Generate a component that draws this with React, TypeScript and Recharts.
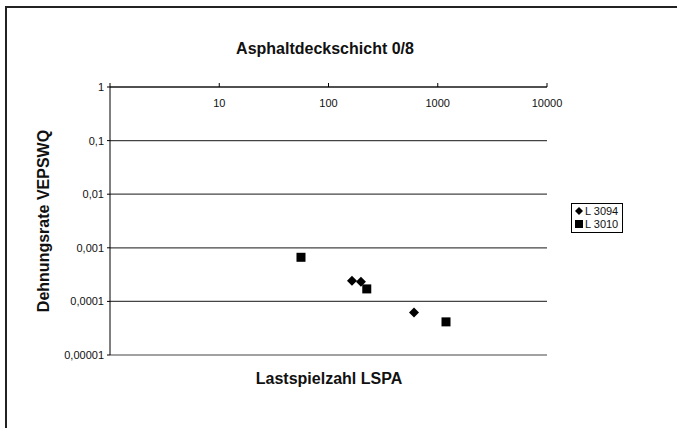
import React from "react";
import {
  ScatterChart,
  Scatter,
  XAxis,
  YAxis,
  CartesianGrid,
  Legend,
} from "recharts";

// Lastspielzahl (x) and Dehnungsrate (y)
const l3094X = [164, 198, 606];
const l3094Y = [0.000244, 0.000232, 0.0000618];
const l3010X = [56, 224, 1190];
const l3010Y = [0.000665, 0.000171, 0.0000415];

const xTicks = [1, 10, 100, 1000, 10000];
const xTickLabels = ["", "10", "100", "1000", "10000"];
const yTicks = [0.00001, 0.0001, 0.001, 0.01, 0.1, 1];
const yTickLabels = ["0,00001", "0,0001", "0,001", "0,01", "0,1", "1"];

const l3094 = l3094X.map((x, i) => ({ x, y: l3094Y[i] }));
const l3010 = l3010X.map((x, i) => ({ x, y: l3010Y[i] }));

const FONT = "'Liberation Sans', Arial, sans-serif";

const Diamond = (props: any) => {
  const { cx, cy } = props;
  const r = 5;
  return (
    <path
      d={`M${cx},${cy - r} L${cx + r},${cy} L${cx},${cy + r} L${cx - r},${cy} Z`}
      fill="#000"
    />
  );
};

const Square = (props: any) => {
  const { cx, cy } = props;
  return <rect x={cx - 4.5} y={cy - 4.5} width={9} height={9} fill="#000" />;
};

const XTick = (props: any) => {
  const { x, y, payload } = props;
  const i = xTicks.indexOf(payload.value);
  return (
    <text
      x={x}
      y={y + 22}
      textAnchor="middle"
      dominantBaseline="central"
      fontSize={11}
      fontFamily={FONT}
      fill="#111"
    >
      {xTickLabels[i]}
    </text>
  );
};

const LegendBox = () => (
  <div
    style={{
      border: "1px solid #000",
      background: "#fff",
      padding: "1px 3px",
      fontSize: 11,
      lineHeight: "13px",
      fontFamily: FONT,
      color: "#111",
      whiteSpace: "nowrap",
    }}
  >
    <div>
      <svg width="8" height="8" style={{ marginRight: 2 }}>
        <path d="M4,0 L8,4 L4,8 L0,4 Z" fill="#000" />
      </svg>
      L 3094
    </div>
    <div>
      <svg width="8" height="8" style={{ marginRight: 2 }}>
        <rect x="0" y="0" width="8" height="8" fill="#000" />
      </svg>
      L 3010
    </div>
  </div>
);

export default function App() {
  return (
    <div
      style={{
        position: "absolute",
        left: 0,
        top: 0,
        width: 677,
        height: 428,
        background: "#fff",
        overflow: "hidden",
        fontFamily: FONT,
      }}
    >
      {/* scanned frame, only left and top edges visible */}
      <div
        style={{
          position: "absolute",
          left: 5,
          top: 6,
          width: 720,
          height: 460,
          borderLeft: "2px solid #222",
          borderTop: "2px solid #222",
        }}
      />
      <div
        style={{
          position: "absolute",
          left: 225,
          top: 40,
          width: 200,
          textAlign: "center",
          fontSize: 16,
          fontWeight: "bold",
          lineHeight: "18px",
          color: "#111",
        }}
      >
        Asphaltdeckschicht 0/8
      </div>
      <div
        style={{
          position: "absolute",
          left: 229,
          top: 370,
          width: 200,
          textAlign: "center",
          fontSize: 16,
          fontWeight: "bold",
          lineHeight: "18px",
          color: "#111",
        }}
      >
        Lastspielzahl LSPA
      </div>
      <ScatterChart
        width={677}
        height={428}
        margin={{ top: 56, right: 78, bottom: 73, left: 0 }}
      >
        <CartesianGrid horizontal vertical={false} stroke="#444" strokeWidth={1.2} />
        <XAxis
          xAxisId={0}
          type="number"
          dataKey="x"
          scale="log"
          domain={[1, 10000]}
          ticks={xTicks}
          allowDataOverflow
          orientation="top"
          height={31}
          tickSize={4}
          tickMargin={2}
          tick={<XTick />}
          axisLine={{ stroke: "#000" }}
          tickLine={{ stroke: "#000" }}
        />
        <YAxis
          yAxisId={0}
          type="number"
          dataKey="y"
          scale="log"
          domain={[0.00001, 1]}
          ticks={yTicks}
          allowDataOverflow
          width={110}
          tickSize={3}
          tickMargin={3}
          tickFormatter={(v: number) => yTickLabels[yTicks.indexOf(v)]}
          tick={{ fontSize: 11, fill: "#111", fontFamily: FONT }}
          axisLine={{ stroke: "#000" }}
          tickLine={{ stroke: "#000" }}
          label={{
            value: "Dehnungsrate VEPSWQ",
            angle: -90,
            position: "insideLeft",
            offset: 43,
            style: {
              textAnchor: "middle",
              fontSize: 16,
              fontWeight: "bold",
              fill: "#111",
              fontFamily: FONT,
            },
          }}
        />
        <Legend
          layout="horizontal"
          verticalAlign="middle"
          align="right"
          wrapperStyle={{ left: 571, top: 203, width: 52, height: 31 }}
          content={() => <LegendBox />}
        />
        <Scatter
          name="L 3094"
          data={l3094}
          shape={<Diamond />}
          isAnimationActive={false}
        />
        <Scatter
          name="L 3010"
          data={l3010}
          shape={<Square />}
          isAnimationActive={false}
        />
      </ScatterChart>
    </div>
  );
}
